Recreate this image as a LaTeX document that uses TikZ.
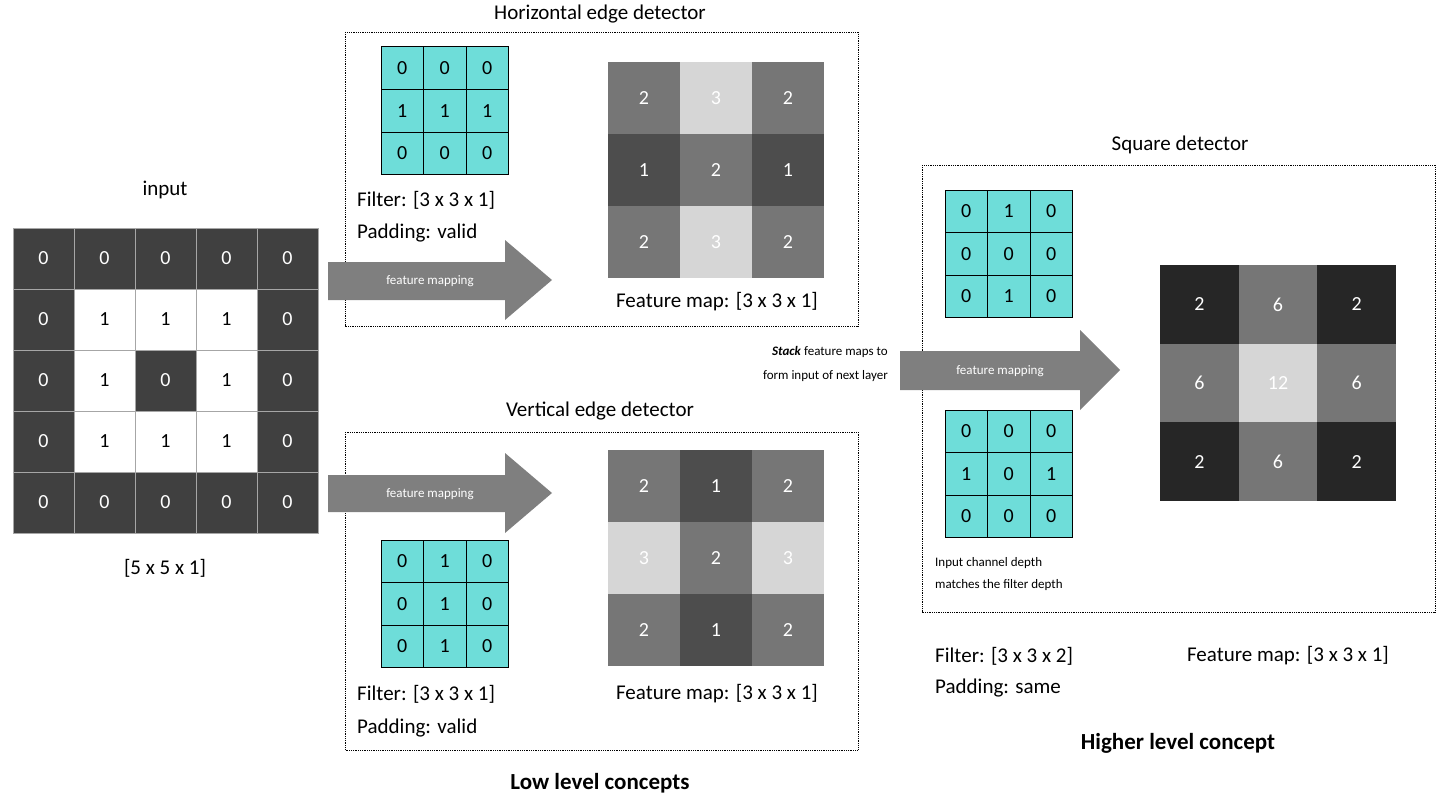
\documentclass[tikz,border=0pt]{standalone}
\usepackage{fontspec}
\setmainfont{Carlito}
\begin{document}
\begin{tikzpicture}[x=1pt,y=-1pt,
  lbl/.style={font=\fontsize{21}{25}\selectfont,inner sep=0pt},
  ttl/.style={font=\fontsize{21}{25}\selectfont,inner sep=0pt},
  small/.style={font=\fontsize{13}{16}\selectfont,inner sep=0pt},
  bigbold/.style={font=\fontsize{23}{28}\selectfont\bfseries,inner sep=0pt},
  dbox/.style={draw,densely dotted,line width=0.8pt},
  fcell/.style={draw=black,fill=filt,line width=1pt},
  arr/.style={fill=arrgray,draw=none}]
\definecolor{filt}{HTML}{6EDDD9}
\definecolor{dk}{HTML}{404040}
\definecolor{md}{HTML}{767676}
\definecolor{lt}{HTML}{D6D6D6}
\definecolor{dm}{HTML}{4D4D4D}
\definecolor{vd}{HTML}{262626}
\definecolor{arrgray}{HTML}{7F7F7F}
\useasboundingbox (0,0) rectangle (1438,808);
% input grid
\def\inrow#1#2{%
 \foreach \v/\c [count=\i from 0] in {#2}{
   \pgfmathsetmacro\xx{13+61*\i}\pgfmathsetmacro\yy{228+61*#1}
   \fill[\c,draw=gray!70,line width=1pt] (\xx,\yy) rectangle ++(61,61);
   \node[font=\fontsize{20}{24}\selectfont,text=\ifx\c dk white\else black\fi] at (\xx+30.5,\yy+30.5) {\v};}}
\foreach \v/\c [count=\i from 0] in {0/dk,0/dk,0/dk,0/dk,0/dk}{\fill[\c,draw=gray!70,line width=1pt] (13+61*\i,228) rectangle ++(61,61); \node[font=\fontsize{20}{24}\selectfont,text=white] at (43.5+61*\i,258.5){\v};}
\foreach \v/\c/\t [count=\i from 0] in {0/dk/white,1/white/black,1/white/black,1/white/black,0/dk/white}{\fill[\c,draw=gray!70,line width=1pt] (13+61*\i,289) rectangle ++(61,61); \node[font=\fontsize{20}{24}\selectfont,text=\t] at (43.5+61*\i,319.5){\v};}
\foreach \v/\c/\t [count=\i from 0] in {0/dk/white,1/white/black,0/dk/white,1/white/black,0/dk/white}{\fill[\c,draw=gray!70,line width=1pt] (13+61*\i,350) rectangle ++(61,61); \node[font=\fontsize{20}{24}\selectfont,text=\t] at (43.5+61*\i,380.5){\v};}
\foreach \v/\c/\t [count=\i from 0] in {0/dk/white,1/white/black,1/white/black,1/white/black,0/dk/white}{\fill[\c,draw=gray!70,line width=1pt] (13+61*\i,411) rectangle ++(61,61); \node[font=\fontsize{20}{24}\selectfont,text=\t] at (43.5+61*\i,441.5){\v};}
\foreach \v/\c [count=\i from 0] in {0/dk,0/dk,0/dk,0/dk,0/dk}{\fill[\c,draw=gray!70,line width=1pt] (13+61*\i,472) rectangle ++(61,61); \node[font=\fontsize{20}{24}\selectfont,text=white] at (43.5+61*\i,502.5){\v};}
\node[lbl] (inT) at (165,190) {input};
\node[lbl] (inB) at (165,568) {[5 x 5 x 1]};
% boxes
\draw[dbox] (345,32) rectangle (858,326);
\draw[dbox] (345,432) rectangle (858,750);
\draw[dbox] (922,165) rectangle (1435,612);
\node[ttl] at (600,14) {Horizontal edge detector};
\node[ttl] at (600,411) {Vertical edge detector};
\node[ttl] at (1180,145) {Square detector};
\node[bigbold] at (600,783) {Low level concepts};
\node[bigbold] at (1178,743) {Higher level concept};
% arrows
\fill[arr] (328,262) -- (505,262) -- (505,240) -- (552,280) -- (505,320) -- (505,300) -- (328,300) -- cycle;
\node[small,text=white] at (430,281) {feature mapping};
\fill[arr] (328,475) -- (505,475) -- (505,453) -- (552,493) -- (505,533) -- (505,512) -- (328,512) -- cycle;
\node[small,text=white] at (430,494) {feature mapping};
\fill[arr] (900,351) -- (1080,351) -- (1080,330) -- (1120,370) -- (1080,410) -- (1080,390) -- (900,390) -- cycle;
\node[small,text=white] at (1000,371) {feature mapping};
\node[small,anchor=east] at (888,352) {\textbf{\textit{Stack}} feature maps to};
\node[small,anchor=east] at (888,376) {form input of next layer};
% filters
\newcommand\filtgrid[4]{% x y rows
 \foreach \r [count=\j from 0] in {#3}{
  \foreach \v [count=\i from 0] in \r {
   \draw[fcell] (#1+42.5*\i,#2+42.5*\j) rectangle ++(42.5,42.5);
   \node[font=\fontsize{20}{24}\selectfont] at (#1+42.5*\i+21.25,#2+42.5*\j+21.25) {\v};}}}
\filtgrid{381}{47}{{0,0,0},{1,1,1},{0,0,0}}{}
\filtgrid{381}{540}{{0,1,0},{0,1,0},{0,1,0}}{}
\filtgrid{945}{190}{{0,1,0},{0,0,0},{0,1,0}}{}
\filtgrid{945}{410}{{0,0,0},{1,0,1},{0,0,0}}{}
% feature maps
\newcommand\fmap[4]{% x y size list
 \foreach \v/\c [count=\k from 0] in {#4}{
  \pgfmathtruncatemacro\ci{mod(\k,3)}\pgfmathtruncatemacro\cj{div(\k,3)}
  \fill[\c] (#1+#3*\ci,#2+#3*\cj) rectangle ++(#3,#3);
  \node[font=\fontsize{20}{24}\selectfont,text=white] at (#1+#3*\ci+#3/2,#2+#3*\cj+#3/2) {\v};}}
\fmap{608}{62}{72}{2/md,3/lt,2/md,1/dm,2/md,1/dm,2/md,3/lt,2/md}
\fmap{608}{450}{72}{2/md,1/dm,2/md,3/lt,2/md,3/lt,2/md,1/dm,2/md}
\fmap{1160}{265}{78.7}{2/vd,6/md,2/vd,6/md,12/lt,6/md,2/vd,6/md,2/vd}
% labels
\node[lbl,anchor=west] at (357,200) {Filter: [3 x 3 x 1]};
\node[lbl,anchor=west] at (357,233) {Padding: valid};
\node[lbl] at (717,302) {Feature map: [3 x 3 x 1]};
\node[lbl,anchor=west] at (357,694) {Filter: [3 x 3 x 1]};
\node[lbl,anchor=west] at (357,728) {Padding: valid};
\node[lbl] at (717,694) {Feature map: [3 x 3 x 1]};
\node[small,anchor=west] at (935,563) {Input channel depth};
\node[small,anchor=west] at (935,585) {matches the filter depth};
\node[lbl,anchor=west] at (935,656) {Filter: [3 x 3 x 2]};
\node[lbl,anchor=west] at (935,688) {Padding: same};
\node[lbl] at (1288,656) {Feature map: [3 x 3 x 1]};
\end{tikzpicture}
\end{document}
